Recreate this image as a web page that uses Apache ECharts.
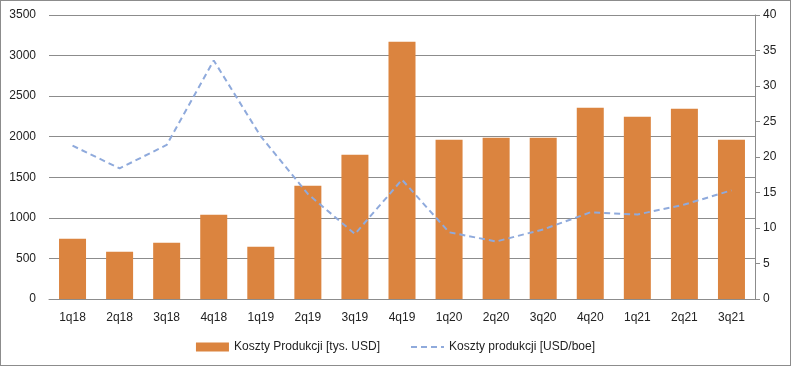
<!DOCTYPE html>
<html><head><meta charset="utf-8">
<script src="https://cdn.jsdelivr.net/npm/echarts@6/dist/echarts.min.js"></script>
<style>html,body{margin:0;padding:0;background:#fff}#c{width:791px;height:366px;box-sizing:border-box;border:1px solid #8c8c8c}</style>
</head><body><div id="c"></div>
<script>
const categories = ['1q18','2q18','3q18','4q18','1q19','2q19','3q19','4q19','1q20','2q20','3q20','4q20','1q21','2q21','3q21'];
const kosztyTys = [743,583,694,1039,645,1396,1778,3170,1963,1988,1988,2358,2247,2345,1963];
const kosztyBoe = [21.6,18.4,21.7,33.6,22.9,14.8,9.15,16.8,9.4,8.1,9.8,12.2,11.9,13.3,15.3];
const leftTicks = {min:0,max:3500,interval:500};
const rightTicks = {min:0,max:40,interval:5};
const font = 'Liberation Sans';
const chart = echarts.init(document.getElementById('c'));
chart.setOption({
  animation:false,
  textStyle:{fontFamily:font},
  grid:{left:48,right:35,top:14,bottom:66,containLabel:false},
  legend:{bottom:7,left:'center',itemGap:30,itemWidth:33,itemHeight:9,
    textStyle:{fontFamily:font,fontSize:12,color:'#222'},
    data:[{name:'Koszty Produkcji [tys. USD]',icon:'rect'},
          {name:'Koszty produkcji [USD/boe]',itemStyle:{opacity:0}}]},
  xAxis:{type:'category',data:categories,
    axisLine:{lineStyle:{color:'#8c8c8c'}},axisTick:{show:false},
    axisLabel:{color:'#222',fontSize:12,margin:13,fontFamily:font}},
  yAxis:[
    {type:'value',min:leftTicks.min,max:leftTicks.max,interval:leftTicks.interval,
     axisLine:{show:false},axisTick:{show:false},
     splitLine:{lineStyle:{color:'#8c8c8c',width:1}},
     axisLabel:{color:'#222',fontSize:12,margin:13,fontFamily:font,formatter:v=>String(v)}},
    {type:'value',position:'right',min:rightTicks.min,max:rightTicks.max,interval:rightTicks.interval,
     axisLine:{show:true,lineStyle:{color:'#8c8c8c'}},axisTick:{show:true,length:5,lineStyle:{color:'#8c8c8c'}},
     splitLine:{show:false},
     axisLabel:{color:'#222',fontSize:12,margin:8,fontFamily:font}}
  ],
  series:[
    {name:'Koszty Produkcji [tys. USD]',type:'bar',data:kosztyTys,yAxisIndex:0,
     barWidth:27,itemStyle:{color:'#DB843F'}},
    {name:'Koszty produkcji [USD/boe]',type:'line',data:kosztyBoe,yAxisIndex:1,
     symbol:'none',lineStyle:{color:'#8FAADC',width:2,type:[6,4]},itemStyle:{color:'#8FAADC'}}
  ]
});
</script></body></html>
